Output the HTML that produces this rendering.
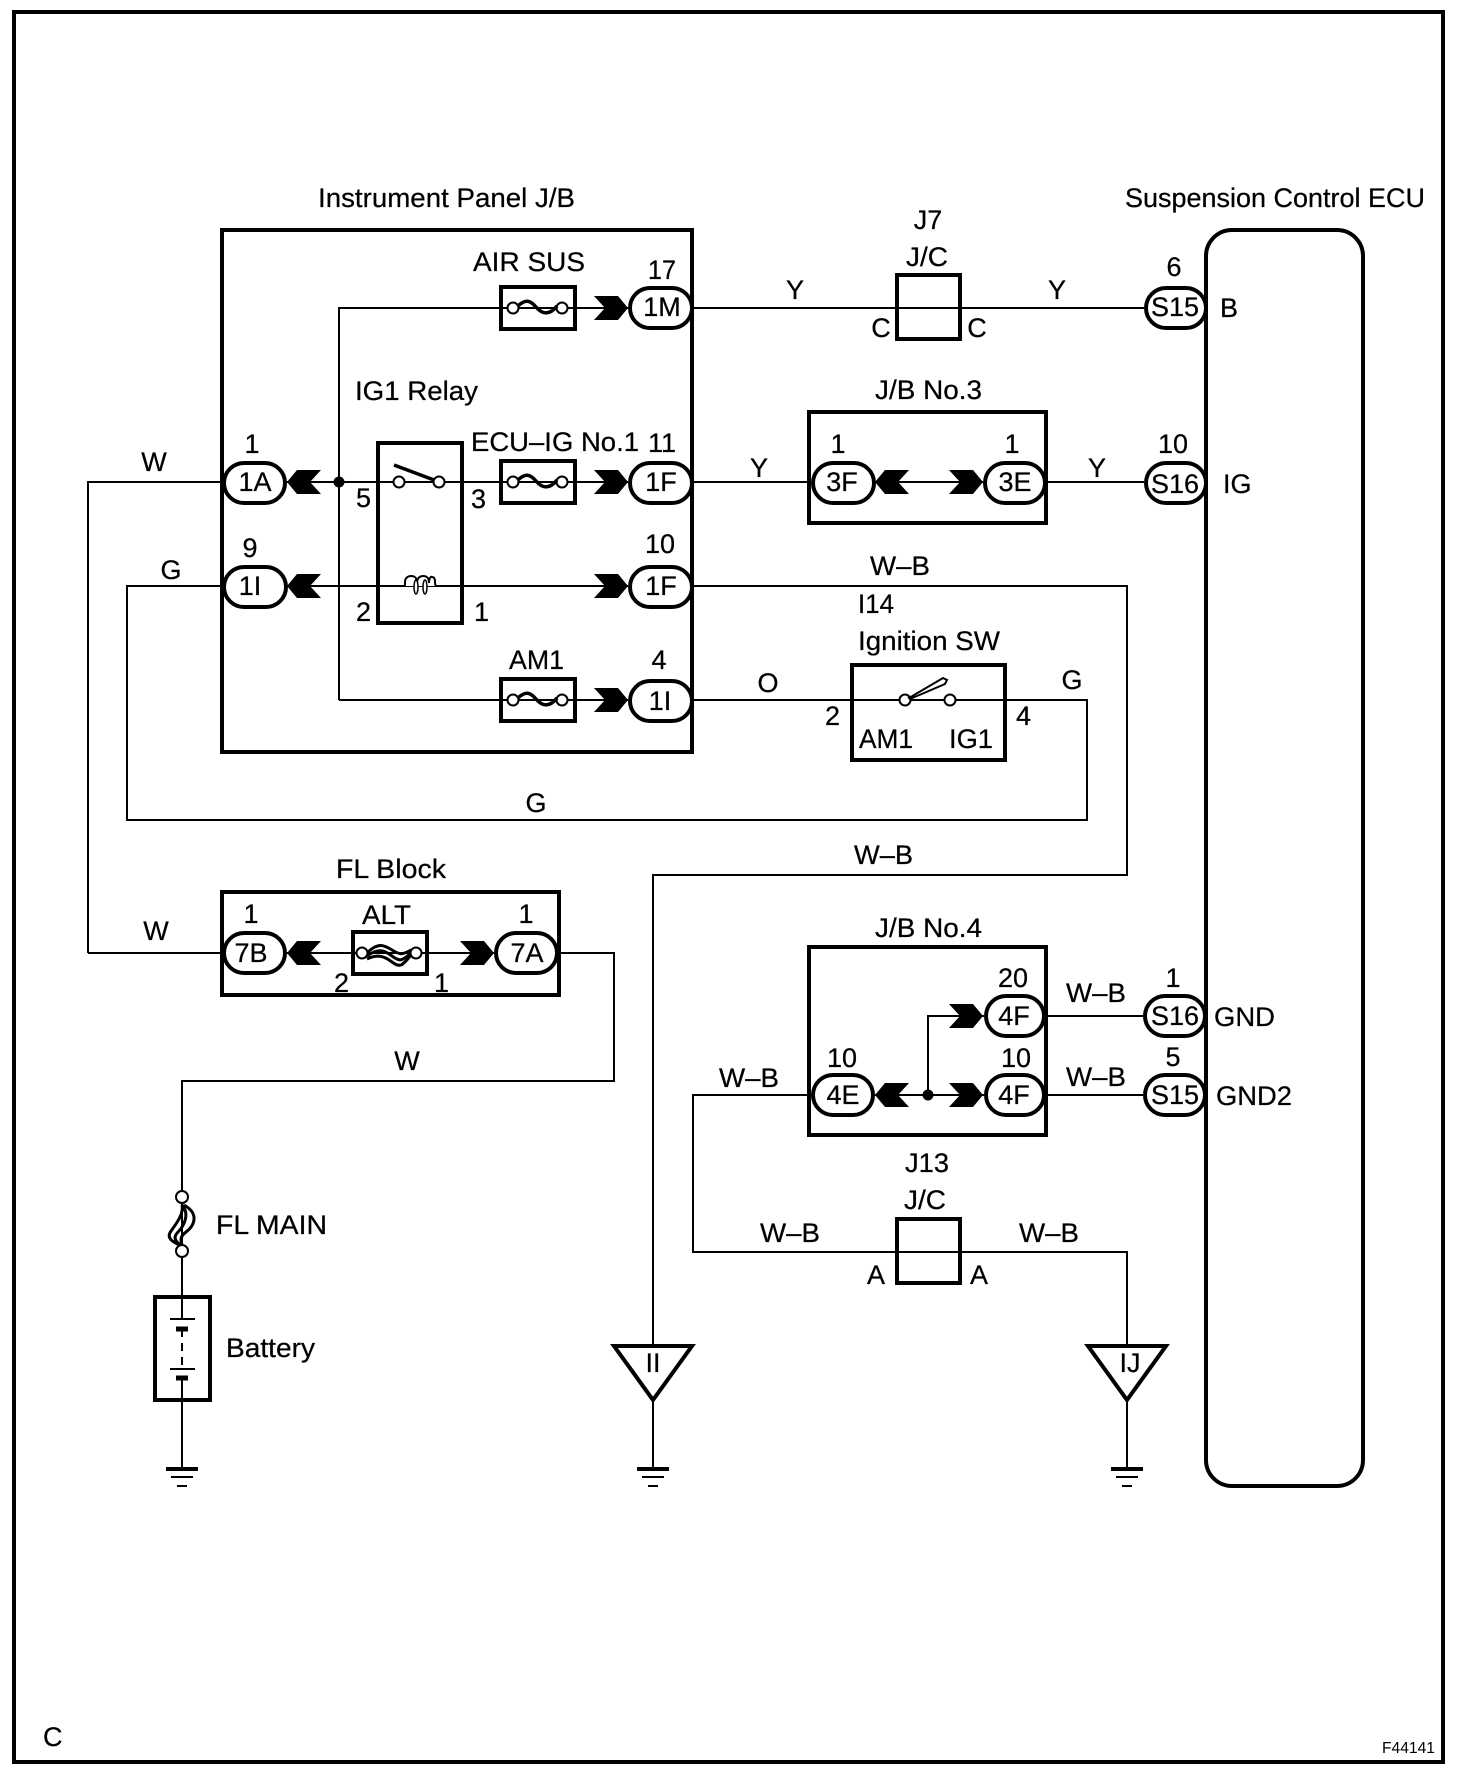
<!DOCTYPE html>
<html><head><meta charset="utf-8"><title>Suspension Control ECU wiring diagram</title>
<style>
html,body{margin:0;padding:0;background:#fff;width:1472px;height:1772px;overflow:hidden}
svg{display:block}
text{font-family:"Liberation Sans",Arial,sans-serif;font-size:27px;fill:#000;stroke:#000;stroke-width:.25}
.w{fill:none;stroke:#000;stroke-width:2}
.b{fill:none;stroke:#000;stroke-width:4}
.p{fill:#fff;stroke:#000;stroke-width:4}
.c{fill:#fff;stroke:#000;stroke-width:2}
.m{text-anchor:middle}
</style></head><body>
<svg width="1472" height="1772" viewBox="0 0 1472 1772" xmlns="http://www.w3.org/2000/svg">
<defs>
<polygon id="ar" points="0,-12 24,-12 34,0 24,12 0,12 11,0" fill="#000"/>
<polygon id="al" points="0,-12 -24,-12 -34,0 -24,12 0,12 -11,0" fill="#000"/>
<g id="fuse">
<rect class="b" x="2" y="-21" width="74" height="42"/>
<circle class="c" cx="14" cy="0" r="5.5"/><circle class="c" cx="63" cy="0" r="5.5"/>
<path d="M19,-2 C26,-9 31,-8 37,-1 S50,8 58,-2" fill="none" stroke="#000" stroke-width="3.5"/>
</g>
<g id="gnd" stroke="#000">
<path d="M-16,0H16" stroke-width="4"/><path d="M-11,8H11" stroke-width="2"/><path d="M-5,17H5" stroke-width="2"/>
</g>
</defs>
<rect width="1472" height="1772" fill="#fff"/>
<rect class="b" x="14" y="12" width="1429" height="1750"/>

<!-- wires -->
<path class="w" d="M339,700V308H628M692,308H1144"/>
<path class="w" d="M88,953V482H222M285,482H628M692,482H811M874,482H983M1045,482H1144"/>
<path class="w" d="M221,586H127V820H1087V700H1005M288,586H628M692,586H1127V875H653V1345"/>
<path class="w" d="M339,700H628M692,700H1005"/>
<path class="w" d="M88,953H222M285,953H494M559,953H614V1081H182V1297"/>
<path class="w" d="M182,1297V1319M182,1378V1469M653,1401V1469M1127,1401V1469"/>
<path class="w" d="M811,1095H693V1252H1127V1345M873,1095H984M1045,1095H1143M1045,1016H1143M928,1095V1016H984"/>
<path class="w" d="M182,1329V1369" stroke-dasharray="8 6"/>

<!-- boxes -->
<rect class="b" x="222" y="230" width="470" height="522"/>
<rect class="b" x="378" y="443" width="84" height="180"/>
<rect class="b" x="897" y="275" width="63" height="64"/>
<rect class="b" x="809" y="412" width="237" height="111"/>
<rect class="b" x="852" y="665" width="153" height="95"/>
<rect class="b" x="222" y="892" width="337" height="103"/>
<rect class="b" x="809" y="947" width="237" height="188"/>
<rect class="b" x="897" y="1219" width="63" height="64"/>
<rect class="b" x="1206" y="230" width="157" height="1256" rx="26" ry="26"/>
<rect class="b" x="155" y="1297" width="55" height="103"/>

<!-- fuses -->
<use href="#fuse" x="499" y="308"/>
<use href="#fuse" x="499" y="482"/>
<use href="#fuse" x="499" y="700"/>

<!-- relay -->
<circle class="c" cx="399" cy="482" r="5.5"/><circle class="c" cx="439" cy="482" r="5.5"/>
<path d="M394,465L434,480" stroke="#000" stroke-width="3.5" fill="none"/>
<path d="M404,586c1,0 1,-1 1,-4c0,-4 3,-6 6,-6c4,0 6,2 6,7c0,-5 3,-7 6,-7c4,0 6,2 6,7c0,-5 2,-7 3,-6c2,0 3,2 3,5c0,3 1,4 1,4" fill="#fff" stroke="#000" stroke-width="2"/>
<ellipse cx="416" cy="587" rx="2" ry="7" fill="#fff" stroke="#000" stroke-width="1.5"/>
<ellipse cx="425" cy="587" rx="2" ry="7" fill="#fff" stroke="#000" stroke-width="1.5"/>

<!-- ignition switch -->
<circle class="c" cx="905" cy="700" r="5.5"/><circle class="c" cx="950" cy="700" r="5.5"/>
<path d="M909,698L943,678L947,680L945,684L910,699Z" fill="#fff" stroke="#000" stroke-width="2"/>

<!-- ALT fuse -->
<rect class="b" x="353" y="932" width="74" height="42"/>
<path d="M367,953C378,942 384,945 392,950S402,955 411,950" fill="none" stroke="#000" stroke-width="3"/>
<path d="M367,956C378,948 384,950 392,956S402,961 411,953" fill="none" stroke="#000" stroke-width="3"/>
<path d="M367,959C378,954 384,956 392,962S402,966 411,955" fill="none" stroke="#000" stroke-width="3"/>
<circle class="c" cx="362" cy="953" r="5.5"/><circle class="c" cx="416" cy="953" r="5.5"/>

<!-- FL main -->
<path d="M184,1205C200,1214 194,1226 186,1232S182,1242 182,1246" fill="none" stroke="#000" stroke-width="3"/>
<path d="M182,1205C190,1214 184,1226 178,1232S176,1242 182,1246" fill="none" stroke="#000" stroke-width="3"/>
<path d="M182,1205C184,1214 176,1224 171,1231S172,1242 182,1246" fill="none" stroke="#000" stroke-width="3"/>
<circle class="c" cx="182" cy="1197" r="6"/><circle class="c" cx="182" cy="1251" r="6"/>

<!-- battery -->
<path d="M170,1319H195M170,1369H195" stroke="#000" stroke-width="2"/>
<path d="M176,1329H188M176,1378H188" stroke="#000" stroke-width="5"/>

<!-- arrows -->
<use href="#ar" x="594" y="308"/><use href="#ar" x="594" y="482"/><use href="#ar" x="594" y="586"/><use href="#ar" x="594" y="700"/>
<use href="#al" x="321" y="482"/><use href="#al" x="321" y="586"/>
<use href="#al" x="909" y="482"/><use href="#ar" x="949" y="482"/>
<use href="#al" x="321" y="953"/><use href="#ar" x="460" y="953"/>
<use href="#ar" x="949" y="1016"/><use href="#ar" x="949" y="1095"/><use href="#al" x="909" y="1095"/>
<circle cx="339" cy="482" r="5.5"/><circle cx="928" cy="1095" r="5.5"/>

<!-- connectors -->
<rect class="p" x="630" y="288" width="62" height="40" rx="20"/>
<rect class="p" x="224" y="463" width="61" height="40" rx="20"/>
<rect class="p" x="630" y="463" width="62" height="40" rx="20"/>
<rect class="p" x="224" y="567" width="62" height="40" rx="20"/>
<rect class="p" x="630" y="567" width="62" height="40" rx="20"/>
<rect class="p" x="630" y="681" width="62" height="40" rx="20"/>
<rect class="p" x="813" y="463" width="61" height="40" rx="20"/>
<rect class="p" x="985" y="463" width="60" height="40" rx="20"/>
<rect class="p" x="1146" y="288" width="60" height="40" rx="20"/>
<rect class="p" x="1146" y="463" width="60" height="40" rx="20"/>
<rect class="p" x="224" y="933" width="61" height="40" rx="20"/>
<rect class="p" x="496" y="933" width="61" height="40" rx="20"/>
<rect class="p" x="986" y="996" width="58" height="40" rx="20"/>
<rect class="p" x="986" y="1075" width="58" height="40" rx="20"/>
<rect class="p" x="813" y="1075" width="60" height="40" rx="20"/>
<rect class="p" x="1145" y="996" width="60" height="40" rx="20"/>
<rect class="p" x="1145" y="1075" width="60" height="40" rx="20"/>

<!-- ground triangles -->
<polygon points="614,1346 692,1346 653,1400" fill="#fff" stroke="#000" stroke-width="4"/>
<polygon points="1088,1346 1166,1346 1127,1400" fill="#fff" stroke="#000" stroke-width="4"/>
<use href="#gnd" x="182" y="1469"/><use href="#gnd" x="653" y="1469"/><use href="#gnd" x="1127" y="1469"/>

<!-- text -->
<text x="318" y="207" textLength="257" lengthAdjust="spacingAndGlyphs">Instrument Panel J/B</text>
<text x="1125" y="207" textLength="300" lengthAdjust="spacingAndGlyphs">Suspension Control ECU</text>
<text x="473" y="271" textLength="112" lengthAdjust="spacingAndGlyphs">AIR SUS</text>
<text x="648" y="279" textLength="28" lengthAdjust="spacingAndGlyphs">17</text>
<text x="662" y="316" class="m">1M</text>
<text x="355" y="400" textLength="123" lengthAdjust="spacingAndGlyphs">IG1 Relay</text>
<text x="471" y="451" textLength="168" lengthAdjust="spacingAndGlyphs">ECU–IG No.1</text>
<text x="648" y="452" textLength="28">11</text>
<text x="252" y="453" class="m">1</text>
<text x="255" y="491" class="m">1A</text>
<text x="661" y="491" class="m">1F</text>
<text x="356" y="507">5</text>
<text x="471" y="508">3</text>
<text x="250" y="557" class="m">9</text>
<text x="660" y="553" class="m">10</text>
<text x="250" y="595" class="m">1I</text>
<text x="661" y="595" class="m">1F</text>
<text x="356" y="621">2</text>
<text x="474" y="621">1</text>
<text x="154" y="471" class="m">W</text>
<text x="171" y="579" class="m">G</text>
<text x="870" y="575" textLength="60" lengthAdjust="spacingAndGlyphs">W–B</text>
<text x="858" y="613" textLength="36" lengthAdjust="spacingAndGlyphs">I14</text>
<text x="858" y="650" textLength="142" lengthAdjust="spacingAndGlyphs">Ignition SW</text>
<text x="859" y="748" textLength="54" lengthAdjust="spacingAndGlyphs">AM1</text>
<text x="949" y="748" textLength="44" lengthAdjust="spacingAndGlyphs">IG1</text>
<text x="825" y="725">2</text>
<text x="1016" y="725">4</text>
<text x="768" y="692" class="m">O</text>
<text x="1072" y="689" class="m">G</text>
<text x="509" y="669" textLength="55" lengthAdjust="spacingAndGlyphs">AM1</text>
<text x="659" y="669" class="m">4</text>
<text x="660" y="710" class="m">1I</text>
<text x="536" y="812" class="m">G</text>
<text x="854" y="864" textLength="59" lengthAdjust="spacingAndGlyphs">W–B</text>

<text x="795" y="299" class="m">Y</text>
<text x="1057" y="299" class="m">Y</text>
<text x="928" y="229" class="m">J7</text>
<text x="906" y="266" textLength="42" lengthAdjust="spacingAndGlyphs">J/C</text>
<text x="881" y="337" class="m">C</text>
<text x="977" y="337" class="m">C</text>
<text x="1174" y="276" class="m">6</text>
<text x="1175" y="316" textLength="48" lengthAdjust="spacingAndGlyphs" class="m">S15</text>
<text x="1220" y="317">B</text>
<text x="875" y="399" textLength="107" lengthAdjust="spacingAndGlyphs">J/B No.3</text>
<text x="838" y="453" class="m">1</text>
<text x="1012" y="453" class="m">1</text>
<text x="842" y="491" class="m">3F</text>
<text x="1015" y="491" class="m">3E</text>
<text x="759" y="477" class="m">Y</text>
<text x="1097" y="477" class="m">Y</text>
<text x="1173" y="453" class="m">10</text>
<text x="1175" y="493" textLength="48" lengthAdjust="spacingAndGlyphs" class="m">S16</text>
<text x="1223" y="493">IG</text>

<text x="336" y="878" textLength="110" lengthAdjust="spacingAndGlyphs">FL Block</text>
<text x="362" y="924" textLength="49" lengthAdjust="spacingAndGlyphs">ALT</text>
<text x="251" y="923" class="m">1</text>
<text x="526" y="923" class="m">1</text>
<text x="251" y="962" class="m">7B</text>
<text x="527" y="962" class="m">7A</text>
<text x="334" y="992">2</text>
<text x="434" y="992">1</text>
<text x="156" y="940" class="m">W</text>
<text x="407" y="1070" class="m">W</text>
<text x="216" y="1234" textLength="111" lengthAdjust="spacingAndGlyphs">FL MAIN</text>
<text x="226" y="1357" textLength="89" lengthAdjust="spacingAndGlyphs">Battery</text>

<text x="875" y="937" textLength="107" lengthAdjust="spacingAndGlyphs">J/B No.4</text>
<text x="1013" y="987" class="m">20</text>
<text x="1014" y="1025" class="m">4F</text>
<text x="1016" y="1067" class="m">10</text>
<text x="1014" y="1104" class="m">4F</text>
<text x="842" y="1067" class="m">10</text>
<text x="843" y="1104" class="m">4E</text>
<text x="1066" y="1002" textLength="60" lengthAdjust="spacingAndGlyphs">W–B</text>
<text x="1066" y="1086" textLength="60" lengthAdjust="spacingAndGlyphs">W–B</text>
<text x="719" y="1087" textLength="60" lengthAdjust="spacingAndGlyphs">W–B</text>
<text x="1173" y="987" class="m">1</text>
<text x="1173" y="1066" class="m">5</text>
<text x="1175" y="1025" textLength="48" lengthAdjust="spacingAndGlyphs" class="m">S16</text>
<text x="1175" y="1104" textLength="48" lengthAdjust="spacingAndGlyphs" class="m">S15</text>
<text x="1214" y="1026" textLength="61" lengthAdjust="spacingAndGlyphs">GND</text>
<text x="1216" y="1105" textLength="76" lengthAdjust="spacingAndGlyphs">GND2</text>
<text x="905" y="1172" textLength="44" lengthAdjust="spacingAndGlyphs">J13</text>
<text x="904" y="1209" textLength="42" lengthAdjust="spacingAndGlyphs">J/C</text>
<text x="760" y="1242" textLength="60" lengthAdjust="spacingAndGlyphs">W–B</text>
<text x="1019" y="1242" textLength="60" lengthAdjust="spacingAndGlyphs">W–B</text>
<text x="876" y="1284" class="m">A</text>
<text x="979" y="1284" class="m">A</text>
<text x="653" y="1372" class="m">II</text>
<text x="1130" y="1372" class="m">IJ</text>
<text x="43" y="1746">C</text>
<text x="1382" y="1753" textLength="53" lengthAdjust="spacingAndGlyphs" style="font-size:16px;stroke-width:0">F44141</text>
</svg>
</body></html>
